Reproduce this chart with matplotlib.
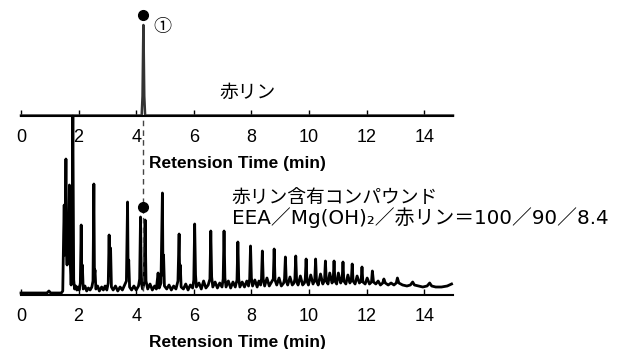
import matplotlib.pyplot as plt

# red phosphorus alone (upper trace)
upper_t = [0.0, 4.19, 4.22, 4.24, 4.25, 4.26, 4.28, 4.31, 15.0]
upper_s = [0.5, 0.5, 20, 70, 91, 70, 20, 0.5, 0.5]

# red phosphorus compound (lower trace)
lower_t = [0.00, 0.50, 0.90, 0.97, 1.03, 1.40, 1.45, 1.48, 1.50, 1.52, 1.54, 1.56, 1.58, 1.60,
           1.62, 1.64, 1.66, 1.68, 1.70, 1.72, 1.74, 1.77, 1.80, 1.83, 1.86, 1.90, 1.94, 1.98,
           2.02, 2.06, 2.09, 2.11, 2.13, 2.16, 2.22, 2.28, 2.34, 2.40, 2.46, 2.50, 2.53, 2.55,
           2.57, 2.60, 2.66, 2.72, 2.80, 2.86, 2.92, 2.98, 3.03, 3.06, 3.08, 3.11, 3.14, 3.20,
           3.28, 3.36, 3.44, 3.52, 3.60, 3.66, 3.70, 3.72, 3.74, 3.77, 3.84, 3.92, 4.00, 4.08,
           4.12, 4.15, 4.18, 4.22, 4.26, 4.28, 4.31, 4.34, 4.40, 4.48, 4.56, 4.64, 4.70, 4.76,
           4.80, 4.86, 4.91, 4.93, 4.95, 4.98, 5.06, 5.14, 5.22, 5.30, 5.38, 5.45, 5.49, 5.51,
           5.53, 5.56, 5.64, 5.72, 5.80, 5.88, 5.96, 6.00, 6.03, 6.06, 6.09, 6.18, 6.26, 6.34,
           6.42, 6.50, 6.56, 6.59, 6.62, 6.66, 6.74, 6.82, 6.90, 6.98, 7.02, 7.05, 7.08, 7.12,
           7.20, 7.28, 7.36, 7.44, 7.50, 7.53, 7.56, 7.60, 7.68, 7.76, 7.84, 7.90, 7.94, 7.97,
           8.00, 8.04, 8.12, 8.20, 8.26, 8.32, 8.35, 8.38, 8.41, 8.46, 8.54, 8.62, 8.70, 8.76,
           8.79, 8.82, 8.88, 8.96, 9.04, 9.12, 9.15, 9.18, 9.21, 9.26, 9.34, 9.42, 9.48, 9.51,
           9.54, 9.57, 9.62, 9.70, 9.78, 9.84, 9.87, 9.90, 9.93, 9.98, 10.06, 10.14, 10.20, 10.23,
           10.26, 10.32, 10.40, 10.48, 10.54, 10.57, 10.60, 10.66, 10.72, 10.80, 10.84, 10.87,
           10.90, 10.96, 11.02, 11.10, 11.15, 11.18, 11.21, 11.28, 11.35, 11.42, 11.47, 11.50,
           11.53, 11.60, 11.67, 11.75, 11.81, 11.84, 11.87, 11.95, 12.02, 12.10, 12.17, 12.20,
           12.24, 12.32, 12.40, 12.48, 12.56, 12.60, 12.65, 12.75, 12.85, 12.95, 13.03, 13.07,
           13.12, 13.25, 13.40, 13.52, 13.60, 13.66, 13.80, 13.95, 14.10, 14.19, 14.26, 14.40,
           14.60, 14.80, 14.95]
lower_s = [2, 2, 2, 4, 2, 2, 4, 60, 90, 40, 70, 136, 50, 30,
           80, 40, 60, 110, 40, 25, 10, 40, 179, 15, 6, 9, 5, 8,
           5, 12, 70, 20, 30, 6, 9, 4, 7, 5, 8, 14, 111, 20,
           25, 6, 9, 4, 8, 5, 9, 5, 12, 60, 20, 47, 8, 5,
           9, 4, 8, 5, 10, 14, 93, 20, 35, 8, 5, 9, 5, 9,
           16, 78, 12, 6, 10, 18, 75, 14, 6, 11, 5, 9, 6, 22,
           7, 12, 102, 20, 40, 9, 6, 10, 5, 9, 6, 14, 61, 18,
           30, 8, 6, 11, 5, 10, 7, 15, 71, 20, 8, 12, 6, 14,
           7, 10, 16, 64, 18, 8, 13, 7, 12, 8, 16, 64, 17, 8,
           14, 7, 13, 8, 15, 53, 16, 8, 13, 8, 14, 9, 16, 49,
           17, 9, 15, 8, 14, 10, 16, 44, 16, 9, 17, 9, 13, 16,
           46, 15, 10, 17, 9, 12, 16, 38, 14, 10, 18, 10, 12, 16,
           39, 14, 10, 19, 10, 12, 16, 36, 14, 10, 20, 11, 15, 36,
           14, 10, 21, 11, 15, 34, 14, 11, 22, 12, 15, 34,
           14, 11, 22, 12, 15, 33, 14, 11, 20, 12, 15, 31,
           14, 11, 19, 12, 14, 28, 13, 11, 17, 11, 13, 24,
           13, 11, 14, 10, 12, 16, 12, 10, 12, 10, 12, 17,
           12, 10, 9, 10, 13, 10, 9, 8, 9, 12, 9, 8,
           8, 9, 11]

peak_time = 4.25
upper_dot = 101
lower_dot = 88
x_ticks = [0, 2, 4, 6, 8, 10, 12, 14]

jp = ['Noto Sans CJK JP', 'DejaVu Sans']
wide = ['DejaVu Sans', 'Noto Sans CJK JP']
tick_font = 'Liberation Sans'

fig = plt.figure(figsize=(6.23, 3.49), dpi=100)
ax_top = fig.add_axes([21 / 623, 1 - 116 / 349, 432 / 623, 111 / 349])
ax_bot = fig.add_axes([21 / 623, 1 - 295 / 349, 432 / 623, 179 / 349])
ax_top.set_zorder(3)
ax_top.patch.set_alpha(0)

for ax in (ax_top, ax_bot):
    ax.set_xlim(0, 15)
    for s in ['top', 'left', 'right']:
        ax.spines[s].set_visible(False)
    ax.spines['bottom'].set_linewidth(1.5)
    ax.set_yticks([])
    ax.set_xticks(x_ticks)
    ax.tick_params(axis='x', direction='in', length=4, width=1, pad=9.5, labelsize=13)
    for lab in ax.get_xticklabels():
        lab.set_fontfamily(tick_font)
    ax.set_xlabel('Retension Time (min)', fontsize=12.5, fontweight='bold',
                  fontfamily=tick_font, labelpad=7)

ax_top.set_ylim(0, 111)
ax_bot.set_ylim(0, 179)

ax_top.plot(upper_t, upper_s, color='#333333', lw=1.8, clip_on=False)
ax_top.plot(peak_time, upper_dot, 'o', color='black', ms=7, clip_on=False)
ax_top.text(4.9, 89, '①', fontsize=13, family=jp, ha='center', va='center')
ax_top.text(7.87, 24, '赤リン', fontsize=13.5, family=jp, ha='center', va='center')

ax_bot.plot(lower_t, lower_s, color='black', lw=2.0, clip_on=False)
ax_bot.vlines(peak_time, 4, 179, colors='#444444', linestyles=(0, (4, 3)), lw=1)
ax_bot.plot(peak_time, lower_dot, 'o', color='black', ms=7)
ax_bot.text(7.32, 97, '赤リン含有コンパウンド', fontsize=13.5, family=jp,
            ha='left', va='center')
ax_bot.text(7.32, 77, 'EEA／Mg(OH)₂／赤リン＝100／90／8.4', fontsize=14.3,
            family=wide, ha='left', va='center')

fig.savefig('out.png', dpi=100)
